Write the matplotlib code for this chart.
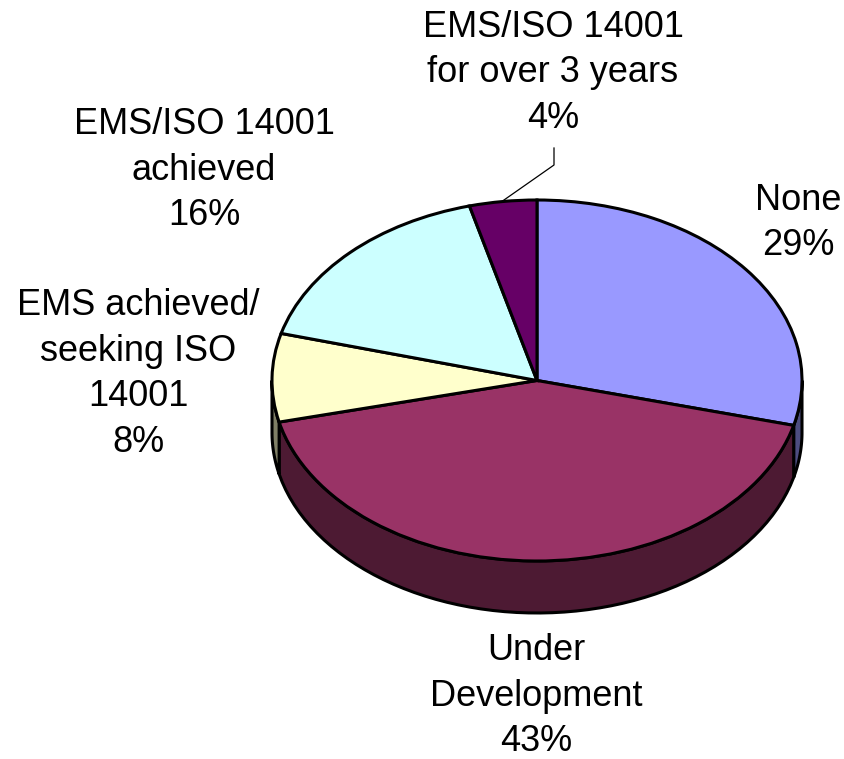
#! /usr/bin/env python
"""
Squashed 3D style pie chart of EMS / ISO 14001 status.
"""

import numpy as np
import matplotlib
matplotlib.use("Agg")
import matplotlib.pyplot as plt

labels = ["None", "Under\nDevelopment", "EMS achieved/\nseeking ISO\n14001",
          "EMS/ISO 14001\nachieved", "EMS/ISO 14001\nfor over 3 years"]
percents = [29, 43, 8, 16, 4]
# shares as drawn, the tilted pie does not quite follow the printed percents
shares = [29, 42.3, 7.9, 16.7, 4.1]
colors = ["#9999FF", "#993366", "#FFFFCC", "#CCFFFF", "#660066"]
side_colors = ["#4D4D80", "#4D1A33", "#808066", "#668080", "#330033"]

W, H = 844, 759
CX, CY, RX, RY = 537, 380.5, 265, 180.5
DEPTH = 52 / RY

plt.rcParams['font.family'] = ['Liberation Sans', 'DejaVu Sans']

fig = plt.figure(figsize=(W / 100, H / 100), dpi=100)
ax = fig.add_axes([0, 0, 1, 1])


def side(t0, t1, color):
    """Draw the visible rim between two angles, clockwise from the top."""
    t = np.radians(np.linspace(t0, t1, 60))
    x = np.sin(t)
    y = np.cos(t)
    ax.fill(np.r_[x, x[::-1]], np.r_[y, y[::-1] - DEPTH],
            facecolor=color, edgecolor="black", linewidth=2.2, zorder=1)


# Only the front half of the rim can be seen
edges = np.cumsum([0] + shares) * 3.6
for i in range(len(shares)):
    t0 = max(edges[i], 90)
    t1 = min(edges[i + 1], 270)
    if t0 < t1:
        side(t0, t1, side_colors[i])

wedges, _ = ax.pie(shares, colors=colors, startangle=90, counterclock=False,
                   wedgeprops={"edgecolor": "black", "linewidth": 2.2})
for w in wedges:
    w.set_zorder(2)

ax.set_aspect("auto")
ax.set_xlim(-CX / RX, (W - CX) / RX)
ax.set_ylim(-(H - CY) / RY, CY / RY)
ax.axis("off")


def px(x, y):
    """Pixel position of the reference to figure fraction."""
    return x / W, 1 - y / H


# label centres, in picture pixels
label_pos = [(798, 223), (536, 696), (138, 374), (204, 170), (553, 73)]
for lab, val, pos in zip(labels, percents, label_pos):
    x, y = px(*pos)
    fig.text(x, y, "%s\n%d%%" % (lab, val), ha="center", va="center",
             fontsize=26, color="black", linespacing=1.39)

# leader line of the smallest slice
lx, ly = zip(px(554, 148), px(554, 165), px(504, 200))
fig.add_artist(plt.Line2D(lx, ly, color="black", linewidth=0.9))

fig.savefig("out.png", dpi=100)
